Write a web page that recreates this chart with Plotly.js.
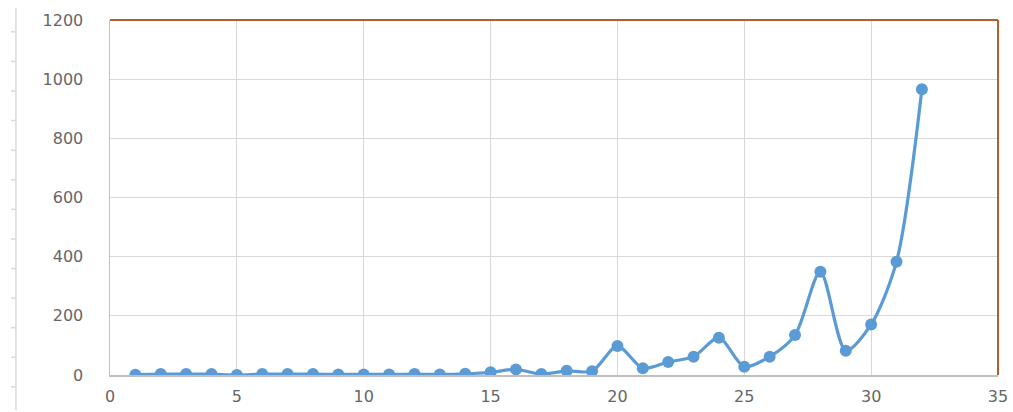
<!DOCTYPE html>
<html>
<head>
<meta charset="utf-8">
<script src="https://cdn.plot.ly/plotly-3.0.1.min.js"></script>
<style>html,body{margin:0;padding:0;background:#fff;}#chart{width:1013px;height:412px;}</style>
</head>
<body>
<div id="chart"></div>
<script>
const xValues = [1,2,3,4,5,6,7,8,9,10,11,12,13,14,15,16,17,18,19,20,21,22,23,24,25,26,27,28,29,30,31,32];
const yValues = [1,3,3,3,0,3,3,3,2,2,2,3,2,4,9,19,3,14,13,98,23,44,62,126,28,62,135,349,82,171,383,966];
const xTicks = [0,5,10,15,20,25,30,35];
const yTicks = [0,200,400,600,800,1000,1200];

const trace = {
  x: xValues, y: yValues, type: 'scatter', mode: 'lines+markers',
  line: {color: '#5b9bd5', width: 3.2, shape: 'spline', smoothing: 0.8},
  marker: {color: '#5b9bd5', size: 12},
  hoverinfo: 'x+y'
};

// decorative stray axis at far left of the picture
const shapes = [
  {type: 'line', xref: 'paper', yref: 'paper', x0: 0, x1: 1, y0: 1, y1: 1, line: {color: '#b0602d', width: 2}},
  {type: 'line', xref: 'paper', yref: 'paper', x0: 1, x1: 1, y0: 0, y1: 1, line: {color: '#b0602d', width: 2}},
  {type: 'line', xref: 'paper', yref: 'paper', x0: -0.1059, x1: -0.1059, y0: -0.0986, y1: 1.034, line: {color: '#d9d9d9', width: 1.5}}
];
for (let v = -40; v <= 1160; v += 100) {
  shapes.push({type: 'line', xref: 'paper', yref: 'paper', x0: -0.1115, x1: -0.1059, y0: v / 1200, y1: v / 1200, line: {color: '#d9d9d9', width: 1.5}});
}

const layout = {
  width: 1013, height: 412,
  margin: {l: 110, r: 15, t: 20, b: 37},
  paper_bgcolor: '#ffffff', plot_bgcolor: '#ffffff',
  showlegend: false,
  font: {family: 'DejaVu Sans, sans-serif', size: 16, color: '#595959'},
  xaxis: {
    range: [0, 35], tickvals: xTicks, ticktext: xTicks.map(String),
    showgrid: true, gridcolor: '#d9d9d9', gridwidth: 1.2,
    zeroline: false, showline: true, linecolor: '#bfbfbf', linewidth: 1.5,
    ticks: '', ticklabelstandoff: 6,
    tickfont: {family: 'DejaVu Sans, sans-serif', size: 16, color: '#666666'}
  },
  yaxis: {
    range: [0, 1200], tickvals: yTicks, ticktext: yTicks.map(String),
    showgrid: true, gridcolor: '#d9d9d9', gridwidth: 1.2,
    zeroline: false, showline: true, linecolor: '#bfbfbf', linewidth: 1.5,
    ticks: '', ticklabelstandoff: 22,
    tickfont: {family: 'DejaVu Sans, sans-serif', size: 16, color: '#666666'}
  },
  shapes: shapes
};

Plotly.newPlot('chart', [trace], layout, {displayModeBar: false, staticPlot: true});
</script>
</body>
</html>
